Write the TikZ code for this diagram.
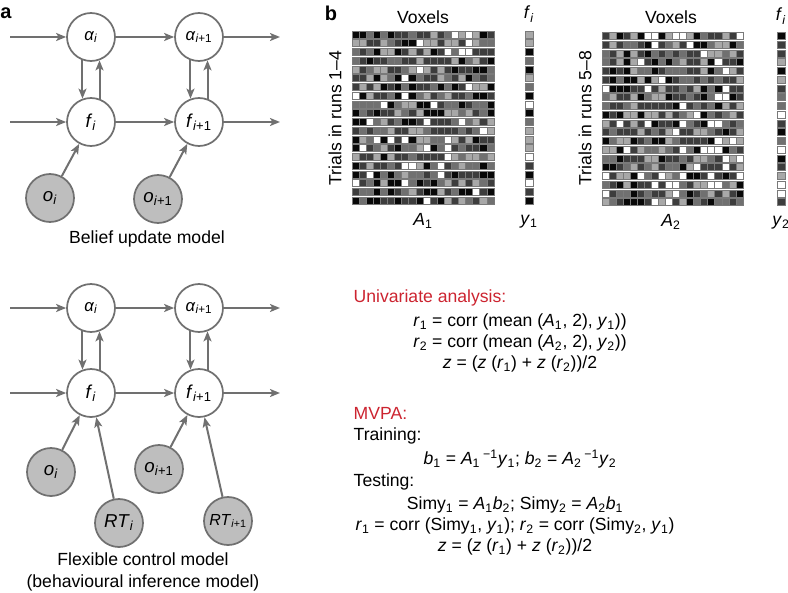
\documentclass[tikz,border=0pt]{standalone}
\usepackage{fontspec}
\setmainfont{Liberation Sans}
\usetikzlibrary{arrows.meta}

\definecolor{linegray}{RGB}{112,112,112}
\definecolor{obsgray}{RGB}{190,190,190}
\definecolor{headred}{RGB}{204,36,48}

\newcommand\sv[2]{\textit{#1}\textsubscript{#2}}
\newcommand\ii{\textit{i}}

\tikzset{
  latent/.style={circle, draw=linegray, line width=1.3pt, fill=white,
    minimum size=36pt, inner sep=0pt, font=\fontsize{14}{16}\selectfont},
  observed/.style={latent, fill=obsgray},
  flow/.style={draw=linegray, line width=1.5pt,
    -{Stealth[length=7.5pt,width=6pt,inset=1.8pt]}},
  caption/.style={font=\fontsize{13.2}{16}\selectfont},
  cell/.style={draw=black!52, line width=0.5pt},
}

\begin{document}
\begin{tikzpicture}[x=0.75pt, y=-0.75pt]
\useasboundingbox (0,0) rectangle (788,592);

% ---------- a: BELIEF UPDATE MODEL ----------
\node[caption, font=\fontsize{15}{17}\selectfont\bfseries] (laba) at (6,13) {a};
\coordinate (ta0) at (10,37);  \coordinate (ta3) at (280,37);
\coordinate (tf0) at (10,122); \coordinate (tf3) at (280,122);
\node[latent, font=\fontsize{12.5}{14}\selectfont] (ta1) at (91,37)  {\sv{α}{\ii}};
\node[latent, font=\fontsize{12.5}{14}\selectfont] (ta2) at (199,37) {\sv{α}{\ii+1}};
\node[latent] (tf1) at (91,122)  {\sv{f}{\ii}};
\node[latent] (tf2) at (199,122) {\sv{f}{\ii+1}};
\node[observed] (to1) at (50,198)  {\sv{o}{\ii}};
\node[observed] (to2) at (158,199) {\sv{o}{\ii+1}};
% chains
\draw[flow] (ta0) -- (ta1);
\draw[flow] (ta1) -- (ta2);
\draw[flow] (ta2) -- (ta3);
\draw[flow] (tf0) -- (tf1);
\draw[flow] (tf1) -- (tf2);
\draw[flow] (tf2) -- (tf3);
% up and down
\draw[flow] (ta1.250) -- (tf1.110);
\draw[flow] (tf1.70) -- (ta1.290);
\draw[flow] (ta2.250) -- (tf2.110);
\draw[flow] (tf2.70) -- (ta2.290);
% observations
\draw[flow] (to1) -- (tf1);
\draw[flow] (to2) -- (tf2);
\node[caption] (capt) at (147,239) {Belief update model};

% ---------- a: FLEXIBLE CONTROL MODEL ----------
\coordinate (ba0) at (10,308);  \coordinate (ba3) at (280,308);
\coordinate (bf0) at (10,393);  \coordinate (bf3) at (280,393);
\node[latent, font=\fontsize{12.5}{14}\selectfont] (ba1) at (91,308)  {\sv{α}{\ii}};
\node[latent, font=\fontsize{12.5}{14}\selectfont] (ba2) at (199,308) {\sv{α}{\ii+1}};
\node[latent] (bf1) at (91,393)  {\sv{f}{\ii}};
\node[latent] (bf2) at (199,393) {\sv{f}{\ii+1}};
\node[observed] (bo1) at (51,472)  {\sv{o}{\ii}};
\node[observed] (bo2) at (159,469) {\sv{o}{\ii+1}};
\node[observed] (br1) at (119,523) {\sv{RT}{\ii}};
\node[observed, font=\fontsize{12}{14}\selectfont] (br2) at (228,521) {\sv{RT}{\ii+1}};
% chains
\draw[flow] (ba0) -- (ba1);
\draw[flow] (ba1) -- (ba2);
\draw[flow] (ba2) -- (ba3);
\draw[flow] (bf0) -- (bf1);
\draw[flow] (bf1) -- (bf2);
\draw[flow] (bf2) -- (bf3);
% up and down
\draw[flow] (ba1.250) -- (bf1.110);
\draw[flow] (bf1.70) -- (ba1.290);
\draw[flow] (ba2.250) -- (bf2.110);
\draw[flow] (bf2.70) -- (ba2.290);
% observations and RTs
\draw[flow] (bo1) -- (bf1);
\draw[flow] (br1) -- (bf1);
\draw[flow] (bo2) -- (bf2);
\draw[flow] (br2) -- (bf2);
\node[caption, align=center] (capb) at (143,572)
  {Flexible control model\\(behavioural inference model)};

% ---------- b: DATA MATRICES ----------
\node[caption, font=\fontsize{15}{17}\selectfont\bfseries] (labb) at (331,13) {b};
\pgfmathsetseed{4711}
% runs 1-4
\node[caption] (vox1) at (423,17) {Voxels};
\node[caption, rotate=90] (tri1) at (335,118) {Trials in runs 1–4};
\foreach \r in {0,...,19}
  \foreach \c in {0,...,19} {
    \pgfmathrandominteger{\g}{0}{9}
    \pgfmathtruncatemacro\shade{{3,3,24,24,24,44,44,66,66,100}[\g]}
    \filldraw[cell, fill=white!\shade!black]
      (352+\c*7.1, 31+\r*8.75) rectangle ++(7.1,7.0);
  }
\foreach \r in {0,...,19} {
    \pgfmathrandominteger{\g}{0}{9}
    \pgfmathtruncatemacro\shade{{3,3,24,24,24,44,44,66,66,100}[\g]}
    \filldraw[cell, fill=white!\shade!black]
      (525, 31+\r*8.75) rectangle ++(8,7.0);
  }
\node[caption] (fi1) at (529,14) {\sv{f}{\ii}};
\node[caption] (mA1) at (423,221) {\sv{A}{1}};
\node[caption] (vy1) at (529,222) {\sv{y}{1}};

% runs 5-8
\node[caption] (vox2) at (671,17) {Voxels};
\node[caption, rotate=90] (tri2) at (585,118) {Trials in runs 5–8};
\foreach \r in {0,...,19}
  \foreach \c in {0,...,19} {
    \pgfmathrandominteger{\g}{0}{9}
    \pgfmathtruncatemacro\shade{{3,3,24,24,24,44,44,66,66,100}[\g]}
    \filldraw[cell, fill=white!\shade!black]
      (602+\c*7.05, 32.5+\r*8.75) rectangle ++(7.05,7.0);
  }
\foreach \r in {0,...,19} {
    \pgfmathrandominteger{\g}{0}{9}
    \pgfmathtruncatemacro\shade{{3,3,24,24,24,44,44,66,66,100}[\g]}
    \filldraw[cell, fill=white!\shade!black]
      (777, 32.5+\r*8.75) rectangle ++(8,7.0);
  }
\node[caption] (fi2) at (781,16) {\sv{f}{\ii}};
\node[caption] (mA2) at (671,222) {\sv{A}{2}};
\node[caption] (vy2) at (781,223) {\sv{y}{2}};

% ---------- b: ANALYSES ----------
\node[caption, text=headred, anchor=west] (uni) at (349,298) {Univariate analysis:};
\node[caption] (ur1) at (520,322) {\sv{r}{1} = corr (mean (\sv{A}{1}, 2), \sv{y}{1}))};
\node[caption] (ur2) at (520,343) {\sv{r}{2} = corr (mean (\sv{A}{2}, 2), \sv{y}{2}))};
\node[caption] (uz) at (520,364) {\textit{z} = (\textit{z} (\sv{r}{1}) + \textit{z} (\sv{r}{2}))/2};

\node[caption, text=headred, anchor=west] (mvpa) at (349,413) {MVPA:};
\node[caption, anchor=west] (train) at (349,436) {Training:};
\node[caption] (mb) at (520,459)
  {\sv{b}{1} = \sv{A}{1}\,\textsuperscript{−1}\sv{y}{1}; \sv{b}{2} = \sv{A}{2}\,\textsuperscript{−1}\sv{y}{2}};
\node[caption, anchor=west] (test) at (349,482) {Testing:};
\node[caption] (ms) at (515,505)
  {Simy\textsubscript{1} = \sv{A}{1}\sv{b}{2}; Simy\textsubscript{2} = \sv{A}{2}\sv{b}{1}};
\node[caption] (mr) at (515,526)
  {\sv{r}{1} = corr (Simy\textsubscript{1}, \sv{y}{1}); \sv{r}{2} = corr (Simy\textsubscript{2}, \sv{y}{1})};
\node[caption] (mz) at (515,547) {\textit{z} = (\textit{z} (\sv{r}{1}) + \textit{z} (\sv{r}{2}))/2};

\end{tikzpicture}
\end{document}
